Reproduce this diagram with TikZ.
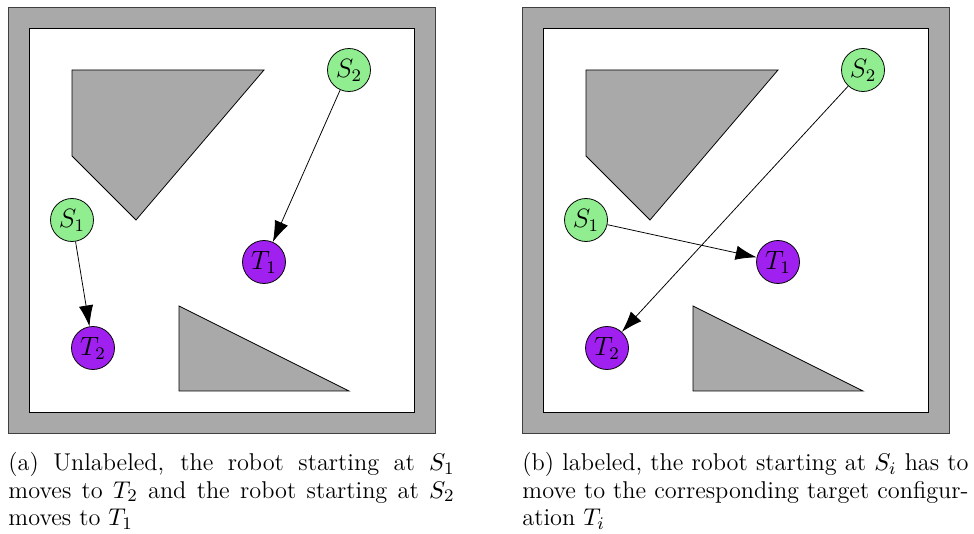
\documentclass[tikz,border=0pt]{standalone}
\usetikzlibrary{arrows.meta}
\definecolor{obst}{RGB}{169,169,169}
\definecolor{startc}{RGB}{144,238,144}
\definecolor{targc}{RGB}{160,32,240}
\newcommand{\capline}[1]{\makebox[202pt][s]{#1}}
\begin{document}
\begin{tikzpicture}[x=0.4528pt,y=-0.4528pt,
  wall/.style={fill=obst,draw=black!75,line width=0.35pt},
  inner/.style={fill=white,draw=black,line width=0.35pt},
  obstacle/.style={fill=obst,draw=black,line width=0.35pt},
  startnode/.style={circle,draw=black,fill=startc,minimum size=43*0.4528pt,inner sep=0pt,font=\large,line width=0.35pt},
  targnode/.style={circle,draw=black,fill=targc,minimum size=43*0.4528pt,inner sep=0pt,font=\large,line width=0.35pt},
  move/.style={-{Latex[length=9.5pt,width=6.5pt]},line width=0.35pt},
  captext/.style={anchor=north west,align=left,inner sep=0pt,font=\fontsize{11}{12.4}\selectfont}]
\useasboundingbox (0,0) rectangle (974,534);
% left panel
\begin{scope}
  \draw[wall] (8,7) rectangle (435,433);
  \draw[inner] (29,28) rectangle (414,412);
  \draw[obstacle] (72,70) -- (264,70) -- (136,220) -- (72,156) -- cycle;
  \draw[obstacle] (179,306) -- (179,391) -- (349,391) -- cycle;
  \node[startnode] (aS2) at (349,70) {$S_2$};
  \node[startnode] (aS1) at (72,220) {$S_1$};
  \node[targnode] (aT1) at (264,262) {$T_1$};
  \node[targnode] (aT2) at (93,348) {$T_2$};
  \draw[move] (aS2) -- (aT1);
  \draw[move] (aS1) -- (aT2);
\end{scope}
% right panel
\begin{scope}[xshift=514*0.4528pt]
  \draw[wall] (8,7) rectangle (435,433);
  \draw[inner] (29,28) rectangle (414,412);
  \draw[obstacle] (72,70) -- (264,70) -- (136,220) -- (72,156) -- cycle;
  \draw[obstacle] (179,306) -- (179,391) -- (349,391) -- cycle;
  \node[startnode] (bS2) at (349,70) {$S_2$};
  \node[startnode] (bS1) at (72,220) {$S_1$};
  \node[targnode] (bT1) at (264,262) {$T_1$};
  \node[targnode] (bT2) at (93,348) {$T_2$};
  \draw[move] (bS2) -- (bT2);
  \draw[move] (bS1) -- (bT1);
\end{scope}
\node[captext] (capa) at (8,452) {\capline{(a) Unlabeled, the robot starting at $S_1$}\\ \capline{moves to $T_2$ and the robot starting at $S_2$}\\ moves to $T_1$};
\node[captext] (capb) at (522,452) {\capline{(b) labeled, the robot starting at $S_i$ has to}\\ \capline{move to the corresponding target configur-}\\ ation $T_i$};
\end{tikzpicture}
\end{document}
